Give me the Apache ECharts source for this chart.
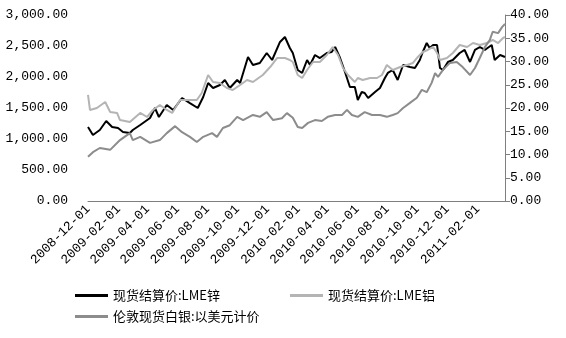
<!DOCTYPE html>
<html>
<head>
<meta charset="utf-8">
<script src="https://cdn.jsdelivr.net/npm/echarts@6/dist/echarts.min.js"></script>
<style>
  html, body { margin: 0; padding: 0; background: #ffffff; }
  #chart { width: 566px; height: 338px; }
</style>
</head>
<body>
<div id="chart"></div>
<script>
// LME zinc spot settlement (USD/t, left axis)
const zincDates = ['2008-12-01','2008-12-11','2008-12-25','2009-01-07','2009-01-19','2009-01-31','2009-02-10','2009-02-24','2009-03-02','2009-03-17','2009-04-06','2009-04-16','2009-04-24','2009-05-10','2009-05-23','2009-06-10','2009-06-26','2009-07-12','2009-07-23','2009-08-02','2009-08-12','2009-08-26','2009-09-05','2009-09-15','2009-09-30','2009-10-06','2009-10-22','2009-11-01','2009-11-15','2009-11-29','2009-12-10','2009-12-26','2010-01-05','2010-01-15','2010-01-21','2010-01-31','2010-02-09','2010-02-19','2010-02-25','2010-03-07','2010-03-17','2010-03-31','2010-04-10','2010-04-17','2010-04-27','2010-05-07','2010-05-17','2010-05-27','2010-06-02','2010-06-10','2010-06-16','2010-06-23','2010-07-07','2010-07-17','2010-07-27','2010-08-02','2010-08-12','2010-08-22','2010-09-02','2010-09-16','2010-09-26','2010-10-06','2010-10-12','2010-10-20','2010-10-26','2010-11-02','2010-11-10','2010-11-16','2010-11-22','2010-12-02','2010-12-12','2010-12-26','2011-01-05','2011-01-16','2011-01-26','2011-02-05','2011-02-15','2011-03-01','2011-03-07','2011-03-18','2011-03-28'];
const zincValues = [1194,1065,1145,1290,1194,1177,1113,1097,1145,1226,1339,1500,1355,1548,1468,1661,1580,1500,1677,1903,1823,1871,1952,1823,1952,1903,2323,2194,2226,2387,2274,2565,2645,2468,2387,2113,2065,2274,2194,2355,2306,2387,2403,2484,2306,2081,1839,1839,1629,1758,1742,1661,1758,1823,1984,2065,2113,1952,2194,2161,2145,2274,2403,2548,2468,2516,2516,2145,2113,2242,2274,2387,2436,2242,2436,2484,2436,2516,2274,2355,2323];

// LME aluminium spot settlement (USD/t, left axis)
const aluDates = ['2008-12-01','2008-12-05','2008-12-19','2009-01-05','2009-01-15','2009-01-29','2009-02-04','2009-02-24','2009-03-17','2009-03-31','2009-04-12','2009-04-26','2009-05-10','2009-05-21','2009-06-06','2009-06-26','2009-07-10','2009-07-20','2009-08-02','2009-08-12','2009-08-26','2009-09-09','2009-09-21','2009-10-06','2009-10-20','2009-11-01','2009-11-21','2009-12-06','2009-12-20','2010-01-05','2010-01-15','2010-01-21','2010-01-31','2010-02-09','2010-02-19','2010-03-03','2010-03-17','2010-03-31','2010-04-12','2010-04-23','2010-05-03','2010-05-13','2010-05-27','2010-06-02','2010-06-12','2010-06-27','2010-07-11','2010-07-21','2010-07-31','2010-08-12','2010-08-27','2010-09-10','2010-09-22','2010-10-02','2010-10-12','2010-10-22','2010-11-02','2010-11-10','2010-11-16','2010-11-30','2010-12-12','2010-12-26','2011-01-10','2011-01-22','2011-02-05','2011-02-19','2011-03-03','2011-03-14','2011-03-24','2011-03-28'];
const aluValues = [1710,1468,1500,1597,1436,1420,1306,1274,1420,1355,1468,1548,1468,1420,1629,1629,1629,1742,2032,1919,1903,1823,1790,1871,1952,1919,2032,2161,2306,2306,2274,2242,2032,1984,2113,2242,2242,2355,2484,2355,2145,2032,1919,1984,1952,1984,1984,2032,2194,2113,2161,2194,2226,2323,2403,2436,2484,2387,2274,2306,2387,2516,2484,2548,2516,2548,2597,2548,2629,2645];

// London spot silver (USD/oz, right axis)
const silverDates = ['2008-12-01','2008-12-11','2008-12-25','2009-01-15','2009-02-04','2009-02-24','2009-03-02','2009-03-17','2009-04-06','2009-04-26','2009-05-10','2009-05-27','2009-06-10','2009-06-26','2009-07-10','2009-07-23','2009-08-10','2009-08-20','2009-09-01','2009-09-15','2009-09-30','2009-10-12','2009-11-01','2009-11-15','2009-11-29','2009-12-12','2009-12-30','2010-01-09','2010-01-21','2010-01-31','2010-02-09','2010-02-21','2010-03-07','2010-03-21','2010-04-02','2010-04-17','2010-05-01','2010-05-11','2010-05-21','2010-06-02','2010-06-16','2010-07-01','2010-07-17','2010-07-31','2010-08-12','2010-08-22','2010-09-02','2010-09-16','2010-09-30','2010-10-10','2010-10-20','2010-10-30','2010-11-06','2010-11-12','2010-11-22','2010-12-06','2010-12-20','2011-01-01','2011-01-16','2011-01-26','2011-02-05','2011-02-15','2011-02-25','2011-03-03','2011-03-14','2011-03-22','2011-03-28'];
const silverValues = [9.5,10.5,11.4,11.0,13.1,14.6,13.1,13.8,12.5,13.1,14.6,16.1,14.8,13.8,12.7,13.8,14.6,13.8,15.7,16.3,18.1,17.4,18.5,18.1,19.1,17.4,17.8,18.9,17.9,15.9,15.7,16.8,17.4,17.2,18.1,18.5,18.5,19.6,18.5,18.1,19.1,18.5,18.5,18.1,18.5,18.9,20.0,21.1,22.2,23.9,23.4,25.4,27.5,26.7,28.2,29.7,29.9,28.8,27.1,28.6,30.8,33.1,34.6,36.4,36.1,37.4,38.1];

// Axis settings
const axisStart = '2008-12-01';
const axisEnd = '2011-03-28';
const dateTicks = ['2008-12-01','2009-02-01','2009-04-01','2009-06-01','2009-08-01','2009-10-01','2009-12-01','2010-02-01','2010-04-01','2010-06-01','2010-08-01','2010-10-01','2010-12-01','2011-02-01'];
const seriesNames = ['现货结算价:LME锌', '现货结算价:LME铝', '伦敦现货白银:以美元计价'];
const seriesColors = ['#000000', '#b4b4b4', '#8c8c8c'];

// dates are placed on a numeric day axis (ms timestamps)
const ts = d => +echarts.time.parse(d);
const pair = (dates, vals) => dates.map((d, i) => [ts(d), vals[i]]);
const fmtNum = v => {
  const parts = Number(v).toFixed(2).split('.');
  parts[0] = parts[0].replace(/\B(?=(\d{3})+(?!\d))/g, ',');
  return parts.join('.');
};
const fmtDate = v => echarts.time.format(v, '{yyyy}-{MM}-{dd}', false);

const numFont = { fontFamily: 'Liberation Mono', fontSize: 13, color: '#000' };
const cjkFont = { fontFamily: 'Noto Sans CJK SC', fontSize: 13, color: '#000' };

const chart = echarts.init(document.getElementById('chart'), null, { renderer: 'canvas' });

const legendBase = {
  orient: 'horizontal',
  icon: 'rect',
  itemWidth: 33,
  itemHeight: 3,
  itemGap: 10,
  padding: 0,
  textStyle: cjkFont
};

chart.setOption({
  animation: false,
  backgroundColor: '#ffffff',
  grid: { left: 88, right: 61, top: 15, bottom: 137, containLabel: false },
  legend: [
    Object.assign({}, legendBase, { data: [seriesNames[0]], left: 75, top: 289 }),
    Object.assign({}, legendBase, { data: [seriesNames[1]], left: 290, top: 289 }),
    Object.assign({}, legendBase, { data: [seriesNames[2]], left: 75, top: 310 })
  ],
  xAxis: {
    type: 'value',
    min: ts(axisStart),
    max: ts(axisEnd),
    scale: true,
    splitLine: { show: false },
    axisLine: { show: true, lineStyle: { color: '#7f7f7f', width: 1 } },
    axisTick: { show: false },
    axisLabel: Object.assign({}, numFont, {
      rotate: 45,
      margin: 6,
      hideOverlap: false,
      showMinLabel: true,
      customValues: dateTicks.map(ts),
      formatter: fmtDate
    })
  },
  yAxis: [
    {
      type: 'value',
      min: 0, max: 3000, interval: 500,
      position: 'left',
      splitLine: { show: false },
      axisLine: { show: false },
      axisTick: { show: false },
      axisLabel: Object.assign({}, numFont, { margin: 20, formatter: fmtNum })
    },
    {
      type: 'value',
      min: 0, max: 40, interval: 5,
      position: 'right',
      splitLine: { show: false },
      axisLine: { show: true, lineStyle: { color: '#7f7f7f', width: 1 } },
      axisTick: { show: true, inside: false, length: 5, lineStyle: { color: '#7f7f7f' } },
      axisLabel: Object.assign({}, numFont, { margin: 5, formatter: fmtNum })
    }
  ],
  series: [
    {
      name: seriesNames[0], type: 'line', yAxisIndex: 0,
      data: pair(zincDates, zincValues),
      showSymbol: false, symbol: 'none',
      lineStyle: { color: seriesColors[0], width: 2 },
      itemStyle: { color: seriesColors[0] }
    },
    {
      name: seriesNames[1], type: 'line', yAxisIndex: 0,
      data: pair(aluDates, aluValues),
      showSymbol: false, symbol: 'none',
      lineStyle: { color: seriesColors[1], width: 2 },
      itemStyle: { color: seriesColors[1] }
    },
    {
      name: seriesNames[2], type: 'line', yAxisIndex: 1,
      data: pair(silverDates, silverValues),
      showSymbol: false, symbol: 'none',
      lineStyle: { color: seriesColors[2], width: 2 },
      itemStyle: { color: seriesColors[2] }
    }
  ]
});
</script>
</body>
</html>
